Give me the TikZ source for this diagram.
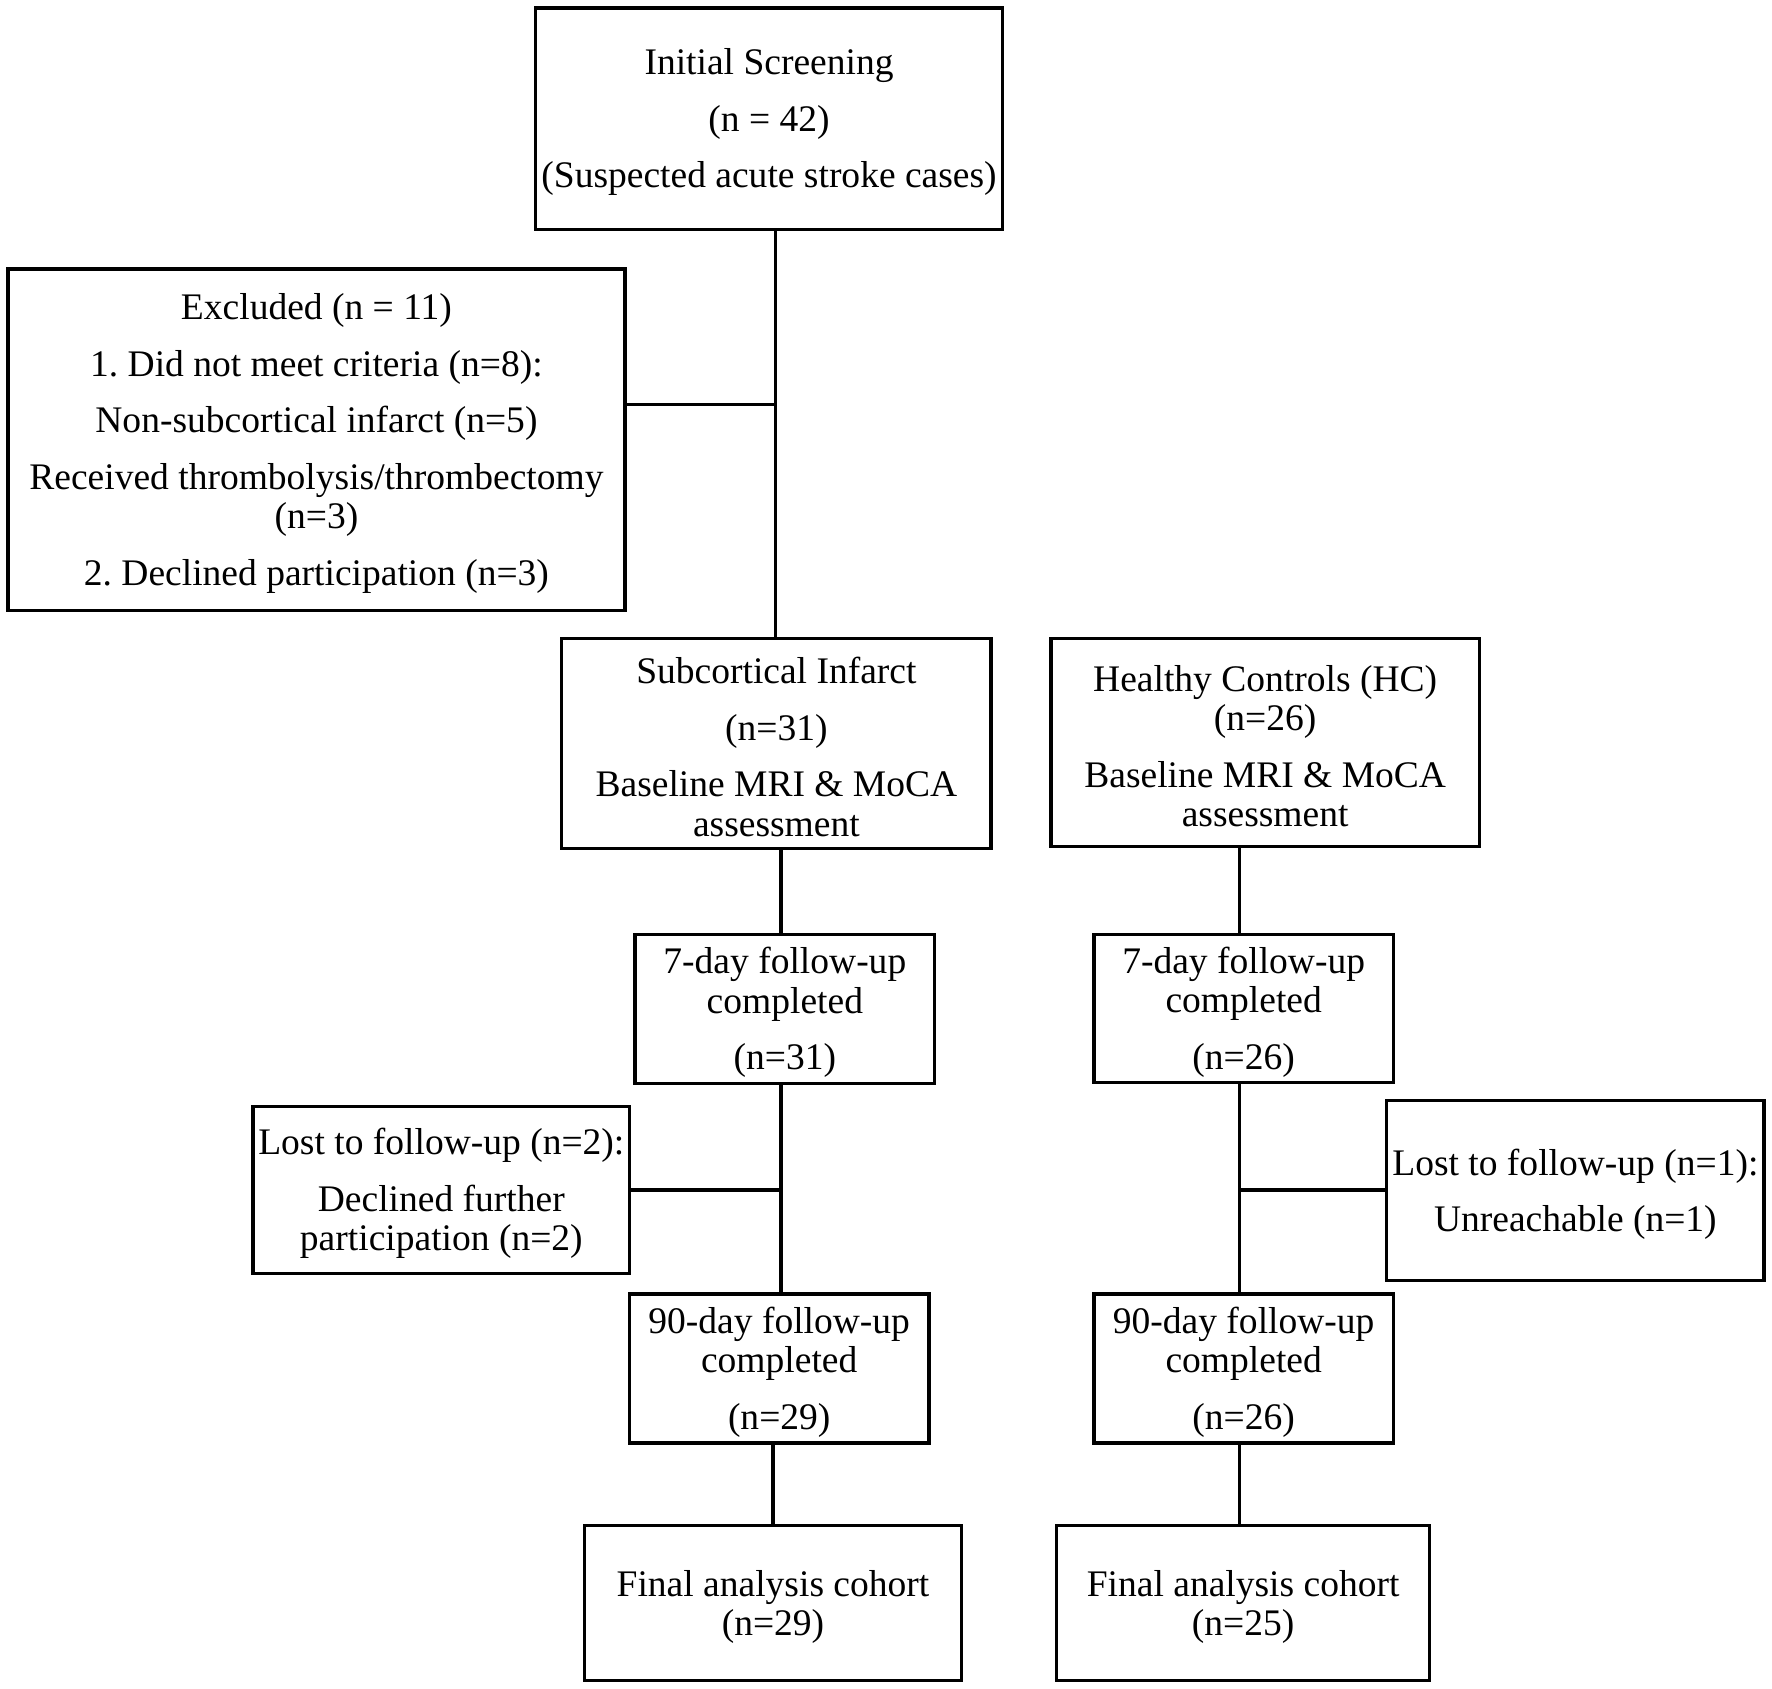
\documentclass[tikz,border=0pt]{standalone}
\usepackage{fontspec}
\setmainfont{Liberation Serif}
\begin{document}
\begin{tikzpicture}[x=0.5pt,y=-0.5pt,
  box/.style={draw,line width=1.5pt,inner sep=0pt,align=center,
    font=\fontsize{16.6}{17.5}\selectfont\frenchspacing},
  conn/.style={line width=1.5pt}]
\def\tp{\rule{0pt}{14.8pt}}
\useasboundingbox (0,0) rectangle (1568,1494);
\node[box,minimum width=206.5pt,minimum height=98pt] (top) at (680.5,105)
  {\tp Initial Screening\\[7.5pt](n = 42)\\[7.5pt](Suspected acute stroke cases)};
\node[box,minimum width=273pt,minimum height=151pt] (excl) at (280,389)
  {\tp Excluded (n = 11)\\[7.5pt]1. Did not meet criteria (n=8):\\[7.5pt]Non-subcortical infarct (n=5)\\[7.5pt]Received thrombolysis/thrombectomy\\(n=3)\\[7.5pt]2. Declined participation (n=3)};
\node[box,minimum width=190pt,minimum height=93pt] (sub) at (687,658)
  {\tp Subcortical Infarct\\[7.5pt](n=31)\\[7.5pt]Baseline MRI \& MoCA\\assessment};
\node[box,minimum width=189.5pt,minimum height=92pt] (hc) at (1119.5,657)
  {\tp Healthy Controls (HC)\\(n=26)\\[7.5pt]Baseline MRI \& MoCA\\assessment};
\node[box,minimum width=132.5pt,minimum height=66pt] (d7l) at (694.5,893)
  {\tp 7-day follow-up\\completed\\[7.5pt](n=31)};
\node[box,minimum width=132.5pt,minimum height=65.5pt] (d7r) at (1100.5,892.5)
  {\tp 7-day follow-up\\completed\\[7.5pt](n=26)};
\node[box,minimum width=166.5pt,minimum height=74pt] (lostl) at (390.5,1053)
  {\tp Lost to follow-up (n=2):\\[7.5pt]Declined further\\participation (n=2)};
\node[box,minimum width=167pt,minimum height=79.5pt] (lostr) at (1394,1053.5)
  {\tp Lost to follow-up (n=1):\\[7.5pt]Unreachable (n=1)};
\node[box,minimum width=132.5pt,minimum height=66pt] (d90l) at (689.5,1211)
  {\tp 90-day follow-up\\completed\\[7.5pt](n=29)};
\node[box,minimum width=132.5pt,minimum height=66pt] (d90r) at (1100.5,1211)
  {\tp 90-day follow-up\\completed\\[7.5pt](n=26)};
\node[box,minimum width=167pt,minimum height=68.5pt] (finl) at (684,1418.5)
  {\tp Final analysis cohort\\(n=29)};
\node[box,minimum width=165pt,minimum height=68.5pt] (finr) at (1100,1418.5)
  {\tp Final analysis cohort\\(n=25)};
\coordinate (j1) at (686,358);
\coordinate (j2) at (691,1053);
\coordinate (j3) at (1097,1053);
\draw[conn] (top.south -| j1) -- (sub.north -| j1);
\draw[conn] (excl.east |- j1) -- (j1);
\draw[conn] (sub.south -| j2) -- (d7l.north -| j2);
\draw[conn] (d7l.south -| j2) -- (d90l.north -| j2);
\draw[conn] (lostl.east |- j2) -- (j2);
\draw[conn] (hc.south -| j3) -- (d7r.north -| j3);
\draw[conn] (d7r.south -| j3) -- (d90r.north -| j3);
\draw[conn] (j3) -- (lostr.west |- j3);
\draw[conn] (d90l.south -| finl.north) -- (finl.north);
\draw[conn] (d90r.south -| j3) -- (finr.north -| j3);
\end{tikzpicture}
\end{document}
